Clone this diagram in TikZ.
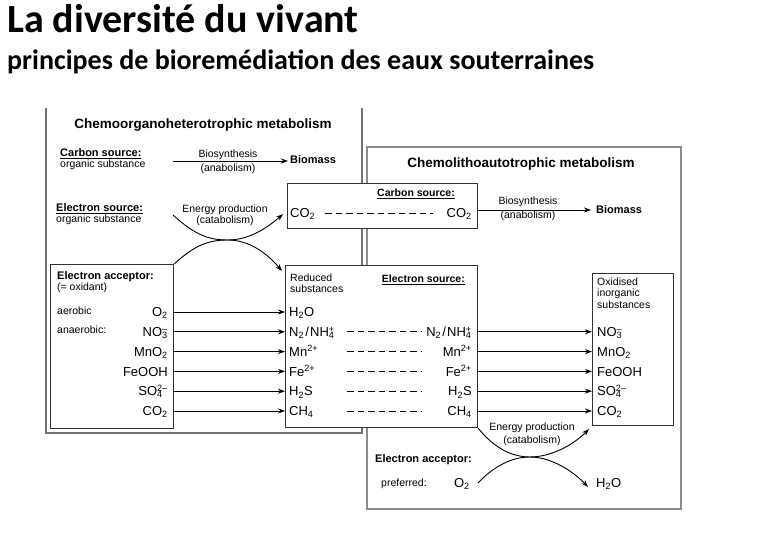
\documentclass[tikz,border=0pt]{standalone}
\usepackage{fontspec}
\setmainfont{Liberation Sans}
\newfontfamily\headfont{Carlito}
\usepackage{tikz}
\usetikzlibrary{arrows.meta,calc}

\newcommand\ionss[2]{\rlap{\textsubscript{#1}}\textsuperscript{#2}}
\newcommand\ammon{N\textsubscript{2}\kern1.2pt/\kern1.2pt NH\ionss{4}{+}}

\begin{document}
\begin{tikzpicture}[x=1pt,y=-1pt]
	\tikzset{outerframe/.style = {draw=black!55, line width=1.4pt},
		subbox/.style = {draw=black!80, fill=white, line width=1.1pt, anchor=north west, inner sep=0pt},
		lbl/.style = {font=\fontsize{10.5}{12}\selectfont, inner sep=0pt, anchor=base west},
		blbl/.style = {lbl, font=\bfseries\fontsize{11}{12}\selectfont},
		hd/.style = {font=\bfseries\fontsize{13.5}{15}\selectfont, inner sep=0pt},
		chem/.style = {font=\fontsize{13}{14}\selectfont, inner sep=0pt, text height=12.3pt, text depth=3pt},
		arr/.style = {-{Stealth[length=7pt,width=5pt]}, line width=0.9pt},
		dsh/.style = {dash pattern=on 6.5pt off 4pt, line width=0.9pt}}
	\fill[white] (0,0) rectangle (780,540);
	\useasboundingbox (0,0) rectangle (780,540);
	\node[anchor=base west, inner sep=0pt, font=\headfont\bfseries\fontsize{40}{41}\selectfont] (title) at (7,33) {La diversité du vivant};
	\node[anchor=base west, inner sep=0pt, font=\headfont\bfseries\fontsize{28}{30}\selectfont] (subtitle) at (7,70) {principes de bioremédiation des eaux souterraines};
	\draw[outerframe] (46,108) -- (46,433) -- (362,433) -- (362,108);
	\draw[outerframe, draw=black!45] (367,147) rectangle (681,509);
	\node[subbox, minimum width=190, minimum height=45] (cbox) at (287,183) {};
	\node[subbox, minimum width=123, minimum height=164] (accbox) at (50,264) {};
	\node[subbox, minimum width=192, minimum height=162] (redbox) at (285,265) {};
	\node[subbox, minimum width=81, minimum height=152] (oxbox) at (592,273) {};
	\node[hd] (orgtitle) at (203,125) {Chemoorganoheterotrophic metabolism};
	\node[blbl] (csrcl) at (60,157) {\underline{Carbon source:}};
	\node[lbl] (csubl) at (60,168) {organic substance};
	\node[lbl, anchor=base] (bios1) at (228,158) {Biosynthesis};
	\node[lbl, anchor=base] (anab1) at (228,172) {(anabolism)};
	\node[blbl] (biom1) at (290,164) {Biomass};
	\coordinate (barr1) at (173,161);
	\draw[arr, shorten >=2pt] (barr1) -- (biom1.west |- barr1);
	\node[blbl] (esrcl) at (56,212) {\underline{Electron source:}};
	\node[lbl] (esubl) at (56,223) {organic substance};
	\node[lbl, anchor=base] (ener1) at (225,213) {Energy production};
	\node[lbl, anchor=base] (catab1) at (225,224) {(catabolism)};
	\coordinate (eA) at (173,215);
	\coordinate (xA) at (228,240);
	\draw[line width=0.9pt, -{Stealth[length=7pt,width=5pt]}] (eA) .. controls (196,236) and (210,240) .. (xA) .. controls (248,240) and (266,229) .. ($(cbox.south west)+(-4,-15)$);
	\draw[line width=0.9pt, -{Stealth[length=7pt,width=5pt]}] (accbox.north east) .. controls (196,244) and (210,240) .. (xA) .. controls (248,240) and (266,252) .. ($(redbox.north west)+(-3,6)$);
	\node[blbl] (eaccl) at (57,280) {Electron acceptor:};
	\node[lbl] (oxid) at (57,291) {(= oxidant)};
	\node[lbl] (aer) at (57,315) {aerobic};
	\node[lbl] (anaer) at (57,334) {anaerobic:};
	\node[blbl, font=\bfseries\fontsize{10.5}{12}\selectfont, anchor=base east] (csrcm) at (455,197) {\underline{Carbon source:}};
	\node[chem, anchor=west] (co2a) at (290,213) {CO\textsubscript{2}};
	\node[chem, anchor=east] (co2b) at (472,213) {CO\textsubscript{2}};
	\draw[dsh, shorten <=10pt, shorten >=14pt] (co2a.east) -- (co2b.west);
	\node[lbl] (redl) at (290,282) {Reduced};
	\node[lbl] (subs) at (290,293) {substances};
	\node[blbl, font=\bfseries\fontsize{10.5}{12}\selectfont, anchor=base east] (esrcm) at (465,283) {\underline{Electron source:}};
	\coordinate (dl) at (347,0);
	\coordinate (dr) at (422,0);
	\foreach \i/\acc/\red in {0/O\textsubscript{2}/H\textsubscript{2}O,
		1/NO\ionss{3}{--}/\ammon,
		2/MnO\textsubscript{2}/Mn\textsuperscript{2+},
		3/FeOOH/Fe\textsuperscript{2+},
		4/SO\ionss{4}{2--}/H\textsubscript{2}S,
		5/CO\textsubscript{2}/CH\textsubscript{4}}{
		\pgfmathsetmacro\ry{312+19.8*\i}
		\node[chem, anchor=east] (acc\i) at (168,\ry) {\acc};
		\node[chem, anchor=west] (red\i) at (289,\ry) {\red};
		\draw[arr] (accbox.east |- acc\i.east) -- (redbox.west |- acc\i.east);
	}
	\foreach \i/\red/\ox in {1/\ammon/NO\ionss{3}{--},
		2/Mn\textsuperscript{2+}/MnO\textsubscript{2},
		3/Fe\textsuperscript{2+}/FeOOH,
		4/H\textsubscript{2}S/SO\ionss{4}{2--},
		5/CH\textsubscript{4}/CO\textsubscript{2}}{
		\pgfmathsetmacro\ry{312+19.8*\i}
		\node[chem, anchor=east] (src\i) at (472,\ry) {\red};
		\node[chem, anchor=west] (ox\i) at (597,\ry) {\ox};
		\draw[dsh] (dl |- red\i.west) -- (dr |- red\i.west);
		\draw[arr] (redbox.east |- src\i.east) -- (oxbox.west |- src\i.east);
	}
	\node[hd] (lithtitle) at (521,164) {Chemolithoautotrophic metabolism};
	\node[lbl, anchor=base] (bios2) at (528,205) {Biosynthesis};
	\node[lbl, anchor=base] (anab2) at (528,219) {(anabolism)};
	\node[blbl] (biom2) at (596,214) {Biomass};
	\coordinate (barr2) at (0,210);
	\draw[arr, shorten >=5pt] (cbox.east |- barr2) -- (biom2.west |- barr2);
	\node[lbl] (oxd) at (597,286) {Oxidised};
	\node[lbl] (inorg) at (597,297) {inorganic};
	\node[lbl] (subs2) at (597,309) {substances};
	\node[lbl, anchor=base] (ener2) at (532,431) {Energy production};
	\node[lbl, anchor=base] (catab2) at (532,443) {(catabolism)};
	\node[blbl] (eacc2) at (375,462) {Electron acceptor:};
	\node[lbl] (pref) at (381,486) {preferred:};
	\node[chem, anchor=east] (o2p) at (470,483) {O\textsubscript{2}};
	\node[chem, anchor=west] (h2o) at (596,483) {H\textsubscript{2}O};
	\coordinate (xB) at (530,457);
	\draw[line width=0.9pt, -{Stealth[length=7pt,width=5pt]}] (redbox.south east) .. controls (494,448) and (512,457) .. (xB) .. controls (550,457) and (572,446) .. ($(oxbox.south west)+(-3,3)$);
	\draw[line width=0.9pt, -{Stealth[length=7pt,width=5pt]}] ($(o2p.east)+(8,0)$) .. controls (494,466) and (512,457) .. (xB) .. controls (550,457) and (572,470) .. ($(h2o.west)+(-8,4)$);
\end{tikzpicture}
\end{document}
